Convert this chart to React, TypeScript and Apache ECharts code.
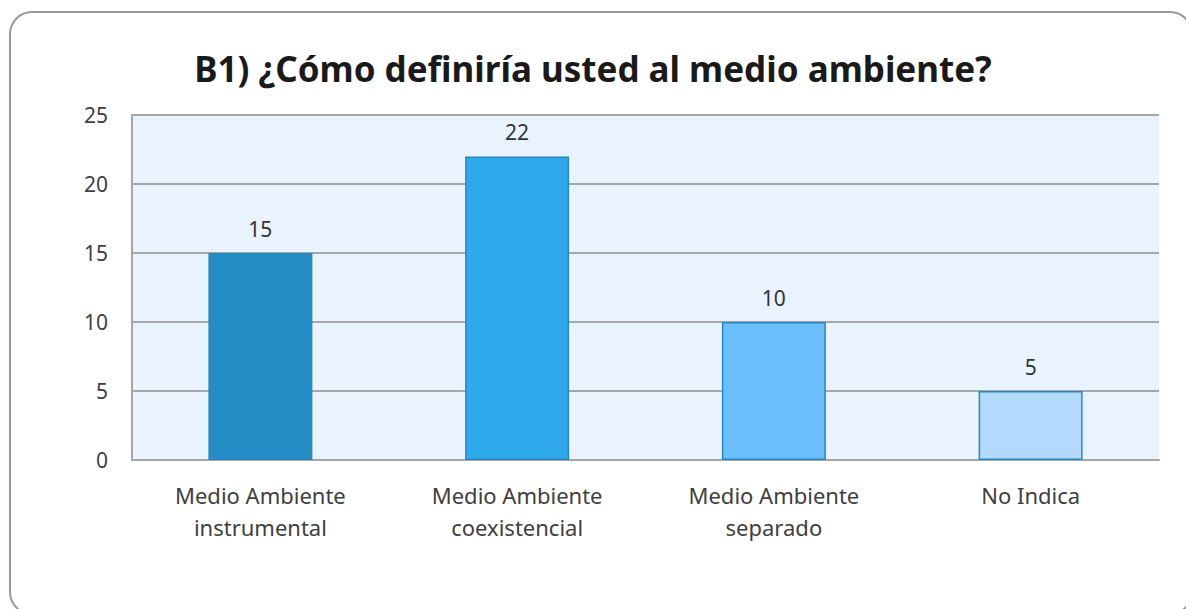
import React, { useEffect, useRef } from "react";
import * as echarts from "echarts";

const titleText = "B1) ¿Cómo definiría usted al medio ambiente?";
const categories = [
  "Medio Ambiente\ninstrumental",
  "Medio Ambiente\ncoexistencial",
  "Medio Ambiente\nseparado",
  "No Indica",
];
const values = [15, 22, 10, 5];
const barColors = ["#238EC5", "#2DA9EC", "#6BBFFA", "#B3D9FC"];
const yTicks = { min: 0, max: 25, interval: 5 };

export default function App() {
  const ref = useRef<HTMLDivElement>(null);
  useEffect(() => {
    if (!ref.current) return;
    const chart = echarts.init(ref.current, null, { renderer: "svg" });
    const font = "'Noto Sans', 'DejaVu Sans', sans-serif";
    chart.setOption({
      animation: false,
      backgroundColor: "#ffffff",
      graphic: [
        {
          type: "rect",
          shape: { x: 10, y: 12, width: 1182, height: 602, r: 22 },
          style: { fill: "none", stroke: "#9a9a9a", lineWidth: 2 },
          z: 100,
        },
      ],
      title: {
        text: titleText,
        left: "center",
        top: 46,
        textStyle: {
          fontFamily: font,
          fontSize: 35,
          fontWeight: "bold",
          color: "#1a1a1a",
        },
      },
      grid: { left: 132, right: 27, top: 115, bottom: 149, backgroundColor: "#E9F3FE", show: true, borderWidth: 0 },
      xAxis: {
        type: "category",
        data: categories,
        axisLine: { show: true, lineStyle: { color: "#a6a6a6", width: 2 } },
        axisTick: { show: false },
        axisLabel: {
          fontFamily: font,
          fontSize: 22,
          color: "#404040",
          lineHeight: 32,
          margin: 19,
        },
      },
      yAxis: {
        type: "value",
        min: yTicks.min,
        max: yTicks.max,
        interval: yTicks.interval,
        axisLine: { show: true, lineStyle: { color: "#a6a6a6", width: 2 } },
        axisTick: { show: false },
        splitLine: { show: true, lineStyle: { color: "#a6a6a6", width: 2 } },
        axisLabel: {
          fontFamily: font,
          fontSize: 21,
          color: "#404040",
          margin: 24,
        },
      },
      series: [
        {
          type: "bar",
          barWidth: "40.5%",
          data: values.map((v, i) => ({
            value: v,
            itemStyle: { color: barColors[i], borderColor: "#2A86C0", borderWidth: 1.5 },
          })),
          label: {
            show: true,
            position: "top",
            distance: 14,
            fontFamily: font,
            fontSize: 21,
            color: "#333333",
          },
        },
      ],
    });
    return () => chart.dispose();
  }, []);
  return (
    <div
      ref={ref}
      style={{ position: "fixed", left: 0, top: 0, width: 1186, height: 609 }}
    />
  );
}
